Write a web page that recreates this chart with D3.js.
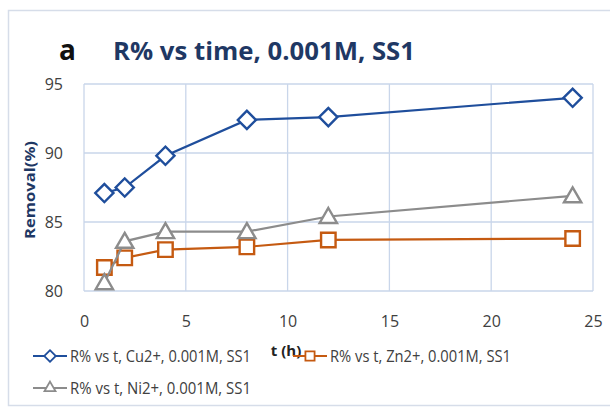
<!DOCTYPE html>
<html>
<head>
<meta charset="utf-8">
<script src="https://cdn.jsdelivr.net/npm/d3@7"></script>
<style>
  body { margin: 0; background: #fff; }
  svg { display: block; font-family: "Open Sans", "Liberation Sans", sans-serif; }
</style>
</head>
<body>
<div id="chart"></div>
<script>
// data
const times = [1, 2, 4, 8, 12, 24];
const cuValues = [87.1, 87.5, 89.8, 92.4, 92.6, 94.0];
const znValues = [81.7, 82.4, 83.0, 83.2, 83.7, 83.8];
const niValues = [80.6, 83.6, 84.3, 84.3, 85.4, 86.9];
const xTicks = [0, 5, 10, 15, 20, 25];
const yTicks = [80, 85, 90, 95];
const seriesNames = [
  'R% vs t, Cu2+, 0.001M, SS1',
  'R% vs t, Zn2+, 0.001M, SS1',
  'R% vs t, Ni2+, 0.001M, SS1'
];

const width = 610;
const height = 407;
const plot = { left: 84, top: 84, right: 593, bottom: 291 };

const svg = d3.select('#chart')
  .append('svg')
  .attr('width', width)
  .attr('height', height);

// chart frame
svg.append('rect')
  .attr('x', 8.5).attr('y', 10.5)
  .attr('width', 640).attr('height', 395)
  .attr('fill', '#fff')
  .attr('stroke', '#d6dde9')
  .attr('stroke-width', 1.5);

const x = d3.scaleLinear().domain([0, 25]).range([plot.left, plot.right]);
const y = d3.scaleLinear().domain([80, 95]).range([plot.bottom, plot.top]);

// grid lines
const grid = svg.append('g');
grid.selectAll('line.v')
  .data(xTicks)
  .enter()
  .append('line')
  .attr('x1', d => x(d)).attr('x2', d => x(d))
  .attr('y1', plot.top).attr('y2', plot.bottom)
  .attr('stroke', '#c9d6ea').attr('stroke-width', 1.3);
grid.selectAll('line.h')
  .data(yTicks)
  .enter()
  .append('line')
  .attr('x1', plot.left).attr('x2', plot.right)
  .attr('y1', d => y(d)).attr('y2', d => y(d))
  .attr('stroke', '#c9d6ea').attr('stroke-width', 1.3);

// axes, text only
const xAxis = svg.append('g')
  .attr('transform', 'translate(0,' + (plot.bottom + 22) + ')')
  .call(d3.axisBottom(x).tickValues(xTicks).tickSize(0));
xAxis.select('.domain').remove();
xAxis.selectAll('text')
  .attr('font-size', 16)
  .attr('font-family', '"Open Sans", sans-serif')
  .attr('fill', '#404040');

const yAxis = svg.append('g')
  .attr('transform', 'translate(' + (plot.left - 18) + ',0)')
  .call(d3.axisLeft(y).tickValues(yTicks).tickSize(0));
yAxis.select('.domain').remove();
yAxis.selectAll('text')
  .attr('font-size', 16)
  .attr('font-family', '"Open Sans", sans-serif')
  .attr('fill', '#404040');

// titles
svg.append('text')
  .attr('x', 59).attr('y', 60)
  .attr('font-size', 28)
  .attr('font-weight', 'bold')
  .attr('fill', '#111')
  .text('a');

svg.append('text')
  .attr('x', 113).attr('y', 60)
  .attr('font-size', 25)
  .attr('font-weight', 'bold')
  .attr('fill', '#1f3864')
  .attr('textLength', 302)
  .attr('lengthAdjust', 'spacingAndGlyphs')
  .text('R% vs time, 0.001M, SS1');

svg.append('text')
  .attr('transform', 'translate(35,190) rotate(-90)')
  .attr('text-anchor', 'middle')
  .attr('font-size', 15)
  .attr('font-weight', 'bold')
  .attr('fill', '#1f3864')
  .attr('textLength', 98)
  .attr('lengthAdjust', 'spacingAndGlyphs')
  .text('Removal(%)');

svg.append('text')
  .attr('x', 286).attr('y', 356)
  .attr('text-anchor', 'middle')
  .attr('font-size', 15)
  .attr('font-weight', 'bold')
  .attr('fill', '#222')
  .text('t (h)');

// series
const series = [
  { name: seriesNames[0], values: cuValues, color: '#1f4e9c', symbol: 'diamond' },
  { name: seriesNames[1], values: znValues, color: '#c55a11', symbol: 'square' },
  { name: seriesNames[2], values: niValues, color: '#8c8c8c', symbol: 'triangle' }
];

function markerPath(kind, scale) {
  if (kind === 'diamond') return d3.symbol(d3.symbolSquare, 165 * scale)();
  if (kind === 'square') return d3.symbol(d3.symbolSquare, 210 * scale)();
  return d3.symbol(d3.symbolTriangle, 130 * scale)();
}
function markerRotate(kind) {
  return kind === 'diamond' ? ' rotate(45)' : '';
}

const line = d3.line()
  .x((d, i) => x(times[i]))
  .y(d => y(d));

// draw Cu last so the order on top matches
const drawOrder = [series[1], series[2], series[0]];
drawOrder.forEach(s => {
  svg.append('path')
    .datum(s.values)
    .attr('d', line)
    .attr('fill', 'none')
    .attr('stroke', s.color)
    .attr('stroke-width', 2.2);

  svg.selectAll(null)
    .data(s.values)
    .enter()
    .append('path')
    .attr('d', markerPath(s.symbol, 1))
    .attr('transform', (d, i) => 'translate(' + x(times[i]) + ',' + (y(d) + (s.symbol === 'triangle' ? 1.5 : 0)) + ')' + markerRotate(s.symbol))
    .attr('fill', '#fff')
    .attr('stroke', s.color)
    .attr('stroke-width', 2.4);
});

// legend
const legendPos = [
  { x: 33, y: 356 },
  { x: 293, y: 356 },
  { x: 33, y: 388 }
];
series.forEach((s, i) => {
  const g = svg.append('g')
    .attr('transform', 'translate(' + legendPos[i].x + ',' + legendPos[i].y + ')');
  g.append('line')
    .attr('x1', 0).attr('x2', 34)
    .attr('y1', 0).attr('y2', 0)
    .attr('stroke', s.color)
    .attr('stroke-width', 2.2);
  g.append('path')
    .attr('d', markerPath(s.symbol, 0.4))
    .attr('transform', 'translate(17,0)' + markerRotate(s.symbol))
    .attr('fill', '#fff')
    .attr('stroke', s.color)
    .attr('stroke-width', 1.8);
  g.append('text')
    .attr('x', 37).attr('y', 5.5)
    .attr('font-size', 15.5)
    .attr('fill', '#404040')
    .attr('textLength', 181)
    .attr('lengthAdjust', 'spacingAndGlyphs')
    .text(s.name);
});
</script>
</body>
</html>
